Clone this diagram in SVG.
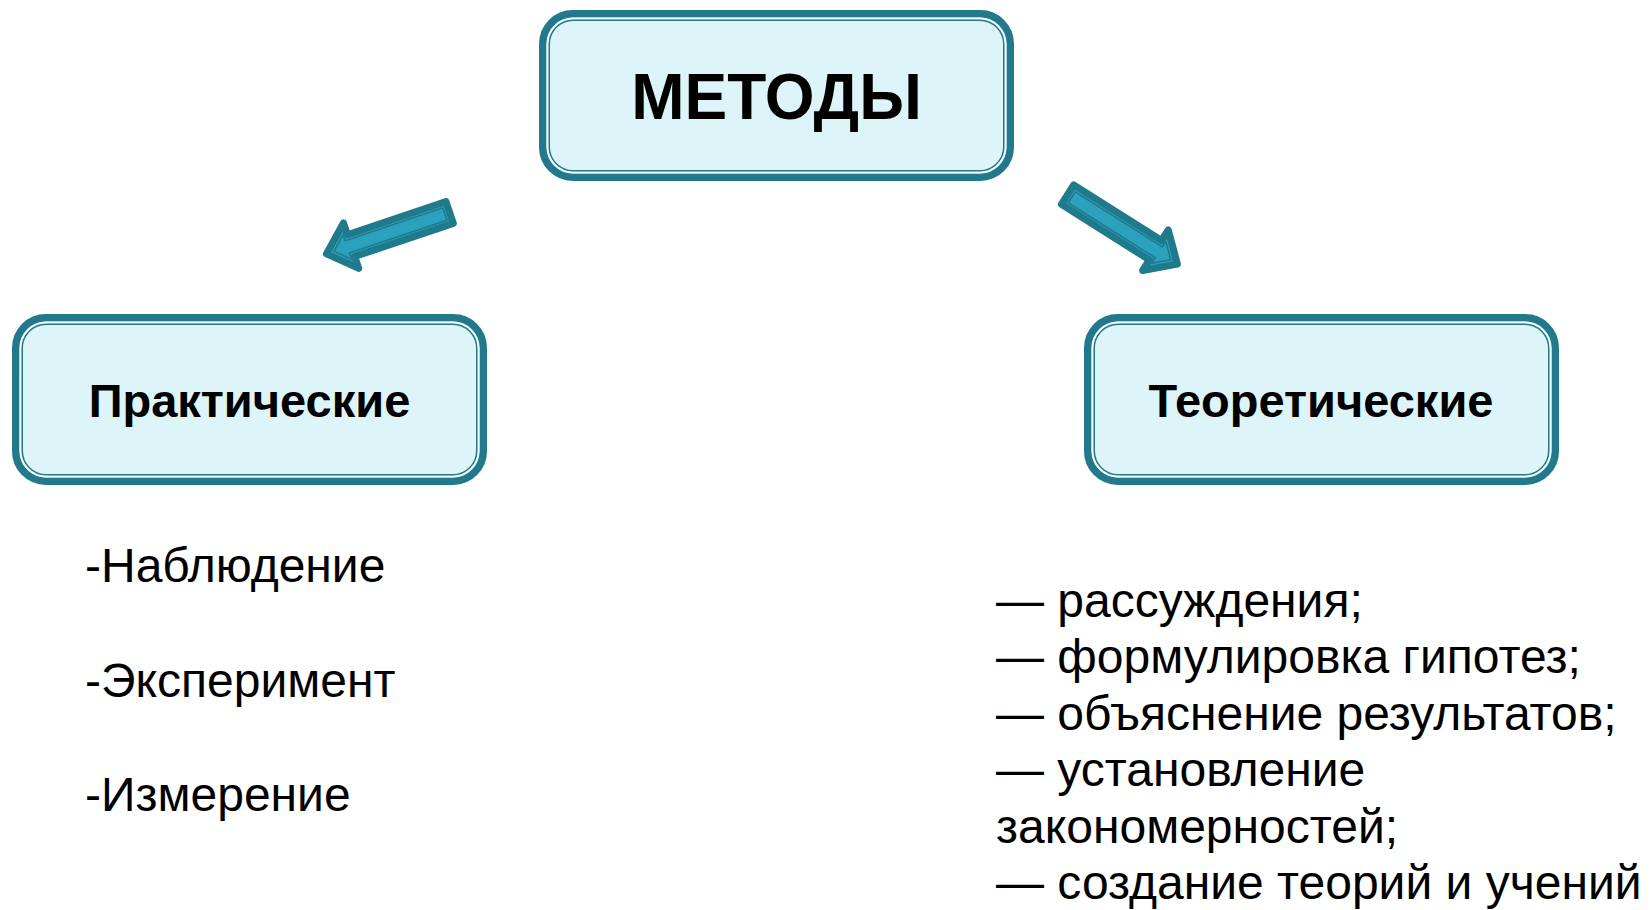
<svg xmlns="http://www.w3.org/2000/svg" xmlns:xlink="http://www.w3.org/1999/xlink" width="1651" height="910" viewBox="0 0 1651 910">
<style>
.frame{fill:#DDF4F9;stroke:#22798B;stroke-width:7.5}
.gap{fill:none;stroke:#F4FCFE;stroke-width:2}
.inner{fill:none;stroke:#22798B;stroke-width:1.5}
.t{font-family:"Liberation Sans",Arial,sans-serif;fill:#000}
.head{font-weight:bold;text-anchor:middle}
.item{font-size:48px}
.arrow{fill:#2BA1BD;stroke:#1F7A8C;stroke-width:7;stroke-linejoin:round}
.arrowline{fill:none;stroke:#1F7A8C;stroke-width:1.5;stroke-linejoin:round}
</style>
<defs>
<g id="box">
<rect class="frame" x="3.75" y="3.75" width="467.5" height="163.5" rx="30" ry="30"/>
<rect class="gap" x="8.5" y="8.5" width="458" height="154" rx="26" ry="26"/>
<rect class="inner" x="10.25" y="10.25" width="454.5" height="150.5" rx="24" ry="24"/>
</g>
<g id="arr">
<path class="arrow" d="M3,-11.5 L107,-11.5 L107,-24 L133,0 L107,24 L107,11.5 L3,11.5 Z"/>
<path class="arrowline" d="M8,-6.5 L111,-6.5 L111,-13 L125,0 L111,13 L111,6.5 L8,6.5 Z"/>
</g>
</defs>
<rect width="1651" height="910" fill="#FFFFFF"/>
<g id="connectors">
<use xlink:href="#arr" transform="translate(452.5,211.5) rotate(161.4)"/>
<use xlink:href="#arr" transform="translate(1065,193) rotate(32.3)"/>
</g>
<g id="node-metody">
<use xlink:href="#box" transform="translate(539,10)"/>
<text class="t head" x="776.5" y="119" font-size="64">МЕТОДЫ</text>
</g>
<g id="node-practical">
<use xlink:href="#box" transform="translate(12,314)"/>
<text class="t head" x="249.5" y="417" font-size="47">Практические</text>
</g>
<g id="node-theoretical">
<use xlink:href="#box" transform="translate(1084,314)"/>
<text class="t head" x="1321" y="417" font-size="47">Теоретические</text>
</g>
<g id="list-practical">
<text class="t item" x="85" y="582">-Наблюдение</text>
<text class="t item" x="85" y="697">-Эксперимент</text>
<text class="t item" x="85" y="811">-Измерение</text>
</g>
<g id="list-theoretical">
<text class="t item" x="996" y="617">— рассуждения;</text>
<text class="t item" x="996" y="673">— формулировка гипотез;</text>
<text class="t item" x="996" y="730">— объяснение результатов;</text>
<text class="t item" x="996" y="786">— установление</text>
<text class="t item" x="996" y="843">закономерностей;</text>
<text class="t item" x="996" y="899">— создание теорий и учений</text>
</g>
</svg>
